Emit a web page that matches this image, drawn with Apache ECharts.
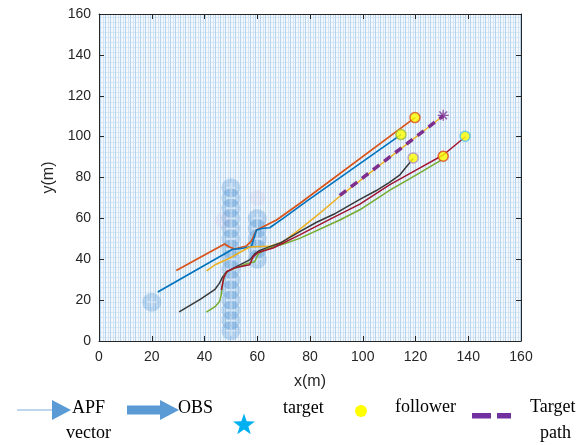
<!DOCTYPE html>
<html>
<head>
<meta charset="utf-8">
<script src="https://cdn.jsdelivr.net/npm/echarts@6/dist/echarts.min.js"></script>
<style>
  html, body { margin: 0; padding: 0; background: #fff; }
  #main { width: 586px; height: 445px; }
</style>
</head>
<body>
<div id="main"></div>
<script>
// trajectories, [x, y] in metres
var pathBlue = [[22.3, 24], [50.5, 44.8], [54, 45.3], [57.8, 46.2], [59.7, 54.3], [62.2, 55.2], [64.7, 55.4], [69.8, 60], [79.3, 68.9], [114.5, 101]];
var pathOrange = [[29.3, 34.5], [47.6, 47.5], [49.5, 46], [51.4, 45], [55.9, 46.5], [57.8, 49], [59.7, 54.3], [62.2, 55.9], [67.3, 59.2], [76.1, 67.3], [119.8, 109.3]];
var pathYellow = [[40.8, 34.3], [44, 37.3], [49.5, 40.5], [54, 43.8], [57.1, 46], [61, 46.2], [64.7, 46.3], [69.8, 48.6], [76.1, 54.6], [84, 62.8], [91.3, 70.8], [130.5, 110.2]];
var pathBlack = [[30.4, 14.3], [38.5, 20.5], [44, 25.3], [45.7, 28.3], [46.8, 31.2], [48.3, 33.8], [52.1, 36.4], [57.1, 39.7], [59, 42.6], [60.9, 44.3], [68.5, 47.8], [76.1, 53.5], [82.5, 58.1], [89, 62], [98.9, 69.3], [105, 73.5], [110, 77.5], [114.1, 81.3], [119.1, 89.3]];
var pathRed = [[46.4, 25], [47.3, 31], [48.5, 34], [52, 36], [57.1, 37.3], [58.5, 41.3], [60.3, 43.3], [66, 45.5], [76.1, 51.9], [88.2, 60], [98.9, 67], [110.3, 76.5], [120, 83.5], [130.5, 91], [138.8, 99.8]];
var pathGreen = [[40.7, 14.1], [44, 16.8], [45.7, 19.3], [46.4, 23], [46.8, 27.5], [47.6, 32.3], [49, 34.3], [52, 35.8], [56, 37.8], [59, 38.8], [60.5, 42.8], [64, 45.3], [70, 47.5], [76.1, 50.2], [91.3, 59.2], [98.9, 64.2], [110.3, 73.8], [120, 81], [129.9, 88.6]];
var pathTarget = [[91.3, 71.2], [130.5, 110.2]];

var followerX = [119.8, 114.5, 119.1, 130.5, 138.8];
var followerY = [109.3, 101, 89.6, 90.4, 100.2];
var targetX = [130.5];
var targetY = [110.4];

// obstacle points
var obsX = [50, 50, 50, 50, 50, 50, 50, 50, 50, 50, 50, 50, 50, 50, 50, 60, 60, 60, 60, 60, 20];
var obsY = [5, 10, 15, 20, 25, 30, 35, 40, 45, 50, 55, 60, 65, 70, 75, 40, 45, 50, 55, 60, 19];
var faintX = [60, 47];
var faintY = [70, 59];

var xTicks = { min: 0, max: 160, step: 20 };
var yTicks = { min: 0, max: 160, step: 20 };

var edgeColors = ['#D95319', '#9DBB3A', '#B08CC8', '#D9431E', '#4DBEEE'];

function zip(xs, ys) {
	var out = [];
	for (var i = 0; i < xs.length; i++) out.push([xs[i], ys[i]]);
	return out;
}

// quiver-like texture for the plot background
function fieldTile() {
	var c = document.createElement('canvas');
	c.width = 5; c.height = 5;
	var g = c.getContext('2d');
	g.fillStyle = '#f5f9fd';
	g.fillRect(0, 0, 5, 5);
	g.fillStyle = '#d6e7f5';
	g.fillRect(0, 2, 5, 1);
	g.fillStyle = '#b7d4ed';
	g.fillRect(0, 0, 1, 5);
	g.fillStyle = '#d2e4f3';
	g.fillRect(3, 0, 1, 5);
	return c;
}

var chart = echarts.init(document.getElementById('main'));
var axisColor = '#262626';
var sans = 'Liberation Sans, Arial, sans-serif';
var serif = 'Liberation Serif, Times New Roman, serif';

function lineSeries(data, color, width) {
	return {
		type: 'line', data: data, showSymbol: false, smooth: false,
		lineStyle: { color: color, width: width || 1.6 }, z: 5, silent: true
	};
}

function starPoints(cx, cy, r1, r2) {
	var pts = [];
	for (var i = 0; i < 10; i++) {
		var r = i % 2 === 0 ? r1 : r2;
		var a = -Math.PI / 2 + i * Math.PI / 5;
		pts.push([cx + r * Math.cos(a), cy + r * Math.sin(a)]);
	}
	return pts;
}

var xAxisBase = {
	type: 'value', min: xTicks.min, max: xTicks.max, interval: xTicks.step,
	splitLine: { show: false },
	axisLine: { show: true, onZero: false, lineStyle: { color: axisColor, width: 1 } },
	axisTick: { show: true, inside: true, length: 5, lineStyle: { color: axisColor } }
};
var yAxisBase = {
	type: 'value', min: yTicks.min, max: yTicks.max, interval: yTicks.step,
	splitLine: { show: false },
	axisLine: { show: true, onZero: false, lineStyle: { color: axisColor, width: 1 } },
	axisTick: { show: true, inside: true, length: 5, lineStyle: { color: axisColor } }
};

var followerSeries = [];
for (var i = 0; i < followerX.length; i++) {
	followerSeries.push({
		type: 'scatter', data: [[followerX[i], followerY[i]]], symbol: 'circle', symbolSize: 10,
		itemStyle: { color: '#FFFF00', borderColor: edgeColors[i], borderWidth: 1.5 }, z: 8, silent: true
	});
}

var option = {
	animation: false,
	grid: {
		left: 99, right: 65, top: 14, bottom: 104, show: true,
		backgroundColor: { image: fieldTile(), repeat: 'repeat' }, borderWidth: 0
	},
	xAxis: [
		Object.assign({}, xAxisBase, {
			position: 'bottom',
			axisLabel: { fontSize: 14, color: axisColor, fontFamily: sans, margin: 9 },
			name: 'x(m)', nameLocation: 'middle', nameGap: 33,
			nameTextStyle: { fontSize: 16, color: axisColor, fontFamily: sans }
		}),
		Object.assign({}, xAxisBase, { position: 'top', axisLabel: { show: false } })
	],
	yAxis: [
		Object.assign({}, yAxisBase, {
			position: 'left',
			axisLabel: { fontSize: 14, color: axisColor, fontFamily: sans, margin: 8 },
			name: 'y(m)', nameLocation: 'middle', nameGap: 34,
			nameTextStyle: { fontSize: 16, color: axisColor, fontFamily: sans }
		}),
		Object.assign({}, yAxisBase, { position: 'right', axisLabel: { show: false } })
	],
	series: [
		{
			type: 'scatter', data: zip(obsX, obsY), symbol: 'circle', symbolSize: 19,
			itemStyle: { color: 'rgba(55,130,205,0.32)' }, z: 2, silent: true
		},
		{
			type: 'scatter', data: zip(faintX, faintY), symbol: 'circle', symbolSize: 16,
			itemStyle: { color: 'rgba(190,150,200,0.15)' }, z: 2, silent: true
		},
		{
			type: 'scatter', data: zip(obsX, obsY), symbol: 'path://M-1,-6 L1,-6 L1,-1 L6,-1 L6,1 L1,1 L1,6 L-1,6 L-1,1 L-6,1 L-6,-1 L-1,-1 Z',
			symbolSize: 10, itemStyle: { color: 'rgba(255,255,255,0.5)' }, z: 3, silent: true
		},
		lineSeries(pathOrange, '#D95319', 1.7),
		lineSeries(pathBlue, '#0072BD', 1.6),
		lineSeries(pathYellow, '#EDB120', 1.5),
		lineSeries(pathBlack, '#3a3a3a', 1.5),
		lineSeries(pathGreen, '#77AC30', 1.5),
		lineSeries(pathRed, '#A2142F', 1.5),
		{
			type: 'line', data: pathTarget, showSymbol: false, z: 6, silent: true,
			lineStyle: { color: '#7E2F8E', width: 3.5, type: [8, 6] }
		},
		{
			type: 'scatter', data: zip(targetX, targetY),
			symbol: 'path://M0,-10 L0,10 M-10,0 L10,0 M-7,-7 L7,7 M-7,7 L7,-7',
			symbolSize: 11, itemStyle: { color: 'transparent', borderColor: '#7E2F8E', borderWidth: 1.3 },
			z: 9, silent: true
		}
	].concat(followerSeries),
	graphic: [
		{ type: 'line', shape: { x1: 17, y1: 410, x2: 54, y2: 410 }, style: { stroke: '#a9c9e8', lineWidth: 1.5 } },
		{ type: 'polygon', shape: { points: [[52, 400], [71, 410], [52, 420]] }, style: { fill: '#5B9BD5' } },
		{ type: 'text', left: 72, top: 399, style: { text: 'APF', font: '18px ' + serif, fill: '#000' } },
		{ type: 'text', left: 66, top: 424, style: { text: 'vector', font: '18px ' + serif, fill: '#000' } },
		{ type: 'rect', shape: { x: 127, y: 405.5, width: 35, height: 9 }, style: { fill: '#5B9BD5' } },
		{ type: 'polygon', shape: { points: [[160, 400], [179, 410], [160, 420]] }, style: { fill: '#5B9BD5' } },
		{ type: 'text', left: 178, top: 399, style: { text: 'OBS', font: '18px ' + serif, fill: '#000' } },
		{ type: 'polygon', shape: { points: starPoints(244, 425, 11.5, 4.6) }, style: { fill: '#00B0F0' } },
		{ type: 'text', left: 283, top: 399, style: { text: 'target', font: '18px ' + serif, fill: '#000' } },
		{ type: 'circle', shape: { cx: 361, cy: 411, r: 6 }, style: { fill: '#FFFF00' } },
		{ type: 'text', left: 395, top: 398, style: { text: 'follower', font: '18px ' + serif, fill: '#000' } },
		{ type: 'rect', shape: { x: 472, y: 413, width: 19, height: 5.5 }, style: { fill: '#7030A0' } },
		{ type: 'rect', shape: { x: 497, y: 413, width: 14, height: 5.5 }, style: { fill: '#7030A0' } },
		{ type: 'text', left: 530, top: 398, style: { text: 'Target', font: '18px ' + serif, fill: '#000' } },
		{ type: 'text', left: 540, top: 424, style: { text: 'path', font: '18px ' + serif, fill: '#000' } }
	]
};

chart.setOption(option);
</script>
</body>
</html>
